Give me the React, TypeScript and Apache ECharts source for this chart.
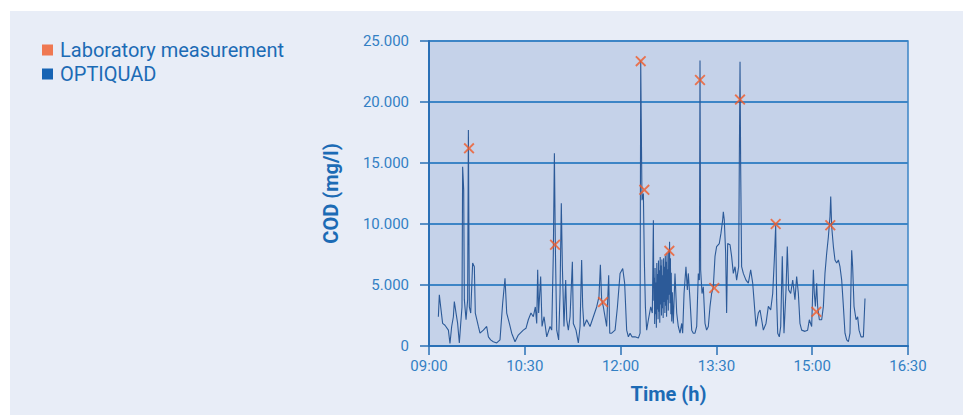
import { useEffect, useRef } from "react";
import * as echarts from "echarts";

// Time axis: minutes of the day
const START_MIN = 9 * 60; // 09:00
const END_MIN = 16 * 60 + 30; // 16:30
const X_INTERVAL = 90;

const Y_MAX = 25000;
const Y_INTERVAL = 5000;

const seriesNames = ["Laboratory measurement", "OPTIQUAD"];

// Laboratory measurements: minutes after 09:00, COD mg/l
const labMinutes = [37.6, 118.4, 163.5, 198.9, 202.3, 225.8, 254.6, 268.0, 292.2, 325.7, 363.9, 377.0];
const labCOD = [16200, 8300, 3600, 23350, 12800, 7800, 21800, 4750, 20200, 10000, 2800, 9900];

// OPTIQUAD online probe: minutes after 09:00
const optiMinutes = [
  8.8, 9.7, 11.0, 12.8, 15.0, 18.2, 19.7, 21.3, 22.9, 23.8, 25.4, 26.9, 28.5, 29.8, 31.0, 31.6, 32.6, 33.2, 34.8, 36.3,
  37.0, 37.9, 39.2, 41.0, 42.6, 43.5, 46.4, 47.9, 51.1, 54.2, 55.8, 57.9, 60.4, 63.6, 66.7, 69.2, 71.4, 73.0, 75.5, 77.7,
  80.8, 83.9, 88.6, 91.1, 93.3, 95.8, 98.0, 99.9, 101.2, 102.1, 103.0, 104.9, 106.2, 108.1, 110.6, 113.7, 115.3, 116.8, 117.8, 118.7,
  120.0, 121.8, 123.1, 124.3, 125.3, 126.8, 128.4, 129.4, 130.9, 132.5, 134.7, 135.6, 138.1, 140.3, 141.9, 143.4, 144.4, 145.6, 148.1, 151.3,
  154.4, 157.5, 159.7, 161.0, 162.2, 163.8, 166.9, 168.8, 169.8, 171.6, 174.8, 177.0, 179.5, 182.0, 183.8, 185.7, 187.3, 188.9, 190.7, 193.6,
  196.7, 198.3, 198.9, 199.5, 200.1, 201.4, 202.3, 203.3, 204.5, 206.1, 208.3, 209.8,
  210.8, 211.2, 211.6, 212.0, 212.4, 212.8, 213.2, 213.6, 214.0, 214.4, 214.8, 215.2, 215.6, 216.0, 216.4, 216.8, 217.2, 217.6, 218.0, 218.4,
  218.8, 219.2, 219.6, 220.0, 220.4, 220.8, 221.2, 221.6, 222.0, 222.4, 222.8, 223.2, 223.6, 224.0, 224.4, 224.8, 225.2, 225.6, 226.0, 226.4,
  226.8, 227.2, 227.6, 228.0, 228.6, 229.5,
  231.1, 232.7, 234.2, 235.8, 237.4, 238.3, 239.6, 241.4, 242.7, 243.6, 245.2, 246.8, 248.3, 249.9, 251.5, 253.0, 254.0, 254.6, 255.2, 256.5,
  257.7, 259.3, 260.8, 262.4, 264.0, 265.5, 267.1, 268.7, 270.2, 272.7, 274.3, 275.9, 276.5, 277.4, 278.7, 279.6, 280.6, 282.8, 284.3, 285.9,
  287.5, 289.0, 290.9, 291.5, 292.2, 292.8, 293.7, 295.3, 297.8, 300.0, 302.2, 304.1, 305.3, 307.2, 309.4, 311.0, 312.5, 314.1, 316.6, 318.8,
  321.0, 322.9, 324.4, 325.7, 326.6, 327.6, 329.1, 330.4, 331.9, 333.5, 335.4, 336.6, 337.9, 339.8, 341.7, 343.8, 345.4, 347.0, 348.5, 350.1,
  353.2, 355.7, 357.3, 359.5, 361.1, 362.0, 363.0, 364.2, 365.1, 366.7, 368.9, 370.5, 372.0, 373.6, 375.2, 376.7, 377.4, 378.3, 379.9, 381.4,
  383.0, 384.6, 386.1, 387.7, 389.3, 390.8, 392.4, 394.0, 395.5, 397.1, 398.0, 399.3, 401.2, 402.7, 404.0, 405.9, 408.1, 409.6,
];
const optiCOD = [
  2400, 4200, 3200, 1850, 1700, 1300, 200, 1600, 2400, 3650, 2700, 1850, 250, 1850, 3200, 14700, 12800, 3800, 2150, 3800,
  17700, 3200, 2700, 6800, 6500, 2700, 1600, 1050, 1300, 1600, 750, 500, 350, 250, 500, 3500, 5550, 2700, 1850, 1050,
  350, 900, 1300, 1450, 2150, 2700, 2400, 3200, 1850, 6250, 2700, 5700, 1600, 2400, 750, 1600, 1300, 7600, 15800, 8150,
  1300, 500, 4300, 11700, 6500, 1600, 5400, 2150, 1300, 2400, 6900, 1850, 1300, 250, 1600, 7050, 3200, 1600, 2150, 1600,
  2400, 3200, 4050, 6650, 3800, 3200, 1600, 5800, 1050, 1050, 1300, 3200, 5950, 6350, 5150, 1300, 750, 1050, 750, 750,
  650, 1050, 23400, 17450, 11950, 12500, 7050, 3200, 1300, 2150, 3200, 2700,
  10300, 3700, 5600, 1800, 6400, 2600, 5200, 1500, 6800, 3000, 5900, 2200, 7000, 2800, 6200, 1900, 7300, 3400, 6600, 2500,
  7100, 3100, 5800, 2300, 7200, 3600, 6500, 2700, 7400, 3300, 6900, 2400, 7600, 3800, 6300, 2900, 7800, 4200, 8550, 3500,
  7200, 2600, 6000, 2000, 4400, 1850,
  5950, 2700, 1600, 1050, 1850, 1050, 4300, 6500, 4600, 5950, 3800, 1300, 1050, 1050, 1600, 5950, 5400, 23400, 6250, 4300,
  4850, 1850, 1300, 1600, 3250, 4300, 4850, 7350, 8150, 8400, 9250, 10350, 11000, 10350, 7600, 2700, 8400, 8300, 7350, 5950,
  6500, 5400, 6500, 14700, 23300, 14700, 6500, 5950, 5400, 5150, 6250, 5150, 3800, 1600, 2700, 2950, 2150, 1300, 1850, 3250,
  2950, 4300, 7050, 9900, 3800, 1050, 750, 1600, 7350, 1050, 4600, 8150, 4600, 4300, 5400, 3800, 5700, 4300, 1850, 1300,
  1200, 1300, 2150, 1600, 6250, 4300, 3250, 5150, 3250, 2150, 2150, 3250, 5950, 7600, 8950, 10600, 12250, 9800, 8150, 7050,
  6800, 7050, 6500, 5400, 3250, 1050, 500, 350, 1050, 7850, 6500, 3250, 2150, 2400, 1300, 750, 750, 3900,
];

const C_PANEL = "#e8edf7";
const C_PLOT = "#c5d2e9";
const C_GRID = "#3d85c6";
const C_AXIS = "#2a70b6";
const C_LABEL = "#3380c4";
const C_TITLE = "#1c6bb5";
const C_LAB = "#f05a28";
const C_OPTI_LEG = "#1764b4";
const C_OPTI_LINE = "#2c5a98";
const FONT = "Roboto, 'DejaVu Sans', sans-serif";

const pad2 = (n: number) => (n < 10 ? "0" + n : String(n));
const fmtTime = (m: number) => pad2(Math.floor(m / 60)) + ":" + pad2(Math.round(m % 60));
const fmtThousands = (v: number) => String(v).replace(/\B(?=(\d{3})+(?!\d))/g, ".");

const X_SHAPE = "path://M0,1.2L1.2,0L5,3.8L8.8,0L10,1.2L6.2,5L10,8.8L8.8,10L5,6.2L1.2,10L0,8.8L3.8,5Z";

export default function App() {
  const ref = useRef<HTMLDivElement>(null);

  useEffect(() => {
    document.body.style.margin = "0";
    if (!ref.current) return;
    const chart = echarts.init(ref.current, undefined, { renderer: "svg" });

    const labData = labMinutes.map((m, i) => [START_MIN + m, labCOD[i]]);
    const optiData = optiMinutes.map((m, i) => [START_MIN + m, optiCOD[i]]);

    chart.setOption({
      animation: false,
      backgroundColor: "transparent",
      textStyle: { fontFamily: FONT },
      legend: {
        left: 37,
        top: 35,
        orient: "vertical",
        itemWidth: 11,
        itemHeight: 11,
        itemGap: 4,
        icon: "rect",
        data: seriesNames,
        textStyle: { fontFamily: FONT, fontSize: 20, color: C_TITLE, padding: [0, 0, 0, 2], lineHeight: 20 },
      },
      grid: {
        left: 429,
        top: 41,
        right: 64,
        bottom: 69,
        show: true,
        backgroundColor: C_PLOT,
        borderColor: C_GRID,
        borderWidth: 1.5,
        containLabel: false,
      },
      xAxis: {
        type: "value",
        min: START_MIN,
        max: END_MIN,
        interval: X_INTERVAL,
        name: "Time (h)",
        nameLocation: "middle",
        nameGap: 38,
        nameTextStyle: { fontFamily: FONT, fontSize: 20, fontWeight: "bold", color: C_TITLE },
        axisLine: { show: true, lineStyle: { color: C_AXIS, width: 2 } },
        axisTick: { show: true, length: 9, lineStyle: { color: C_AXIS, width: 1.5 } },
        axisLabel: { fontFamily: FONT, fontSize: 15, color: C_LABEL, margin: 12, formatter: (v: number) => fmtTime(v) },
        splitLine: { show: false },
      },
      yAxis: {
        type: "value",
        min: 0,
        max: Y_MAX,
        interval: Y_INTERVAL,
        name: "COD (mg/l)",
        nameLocation: "middle",
        nameGap: 88,
        nameRotate: 90,
        nameTextStyle: { fontFamily: FONT, fontSize: 20, fontWeight: "bold", color: C_TITLE },
        axisLine: { show: true, lineStyle: { color: C_AXIS, width: 2 } },
        axisTick: { show: true, length: 9, lineStyle: { color: C_AXIS, width: 1.5 } },
        axisLabel: { fontFamily: FONT, fontSize: 15, color: C_LABEL, margin: 20, formatter: (v: number) => fmtThousands(v) },
        splitLine: { show: true, lineStyle: { color: C_GRID, width: 2 } },
      },
      series: [
        {
          name: seriesNames[1],
          type: "line",
          data: optiData,
          showSymbol: false,
          symbol: "none",
          itemStyle: { color: C_OPTI_LEG },
          lineStyle: { color: C_OPTI_LINE, width: 1.1 },
          z: 2,
        },
        {
          name: seriesNames[0],
          type: "scatter",
          data: labData,
          symbol: X_SHAPE,
          symbolSize: 11,
          itemStyle: { color: C_LAB },
          z: 3,
        },
      ],
    });

    return () => chart.dispose();
  }, []);

  return (
    <div style={{ position: "relative", width: 972, height: 415, background: "#ffffff" }}>
      <div style={{ position: "absolute", left: 10, top: 11, width: 953, height: 404, background: C_PANEL }} />
      <div ref={ref} style={{ position: "absolute", left: 0, top: 0, width: 972, height: 415 }} />
    </div>
  );
}
